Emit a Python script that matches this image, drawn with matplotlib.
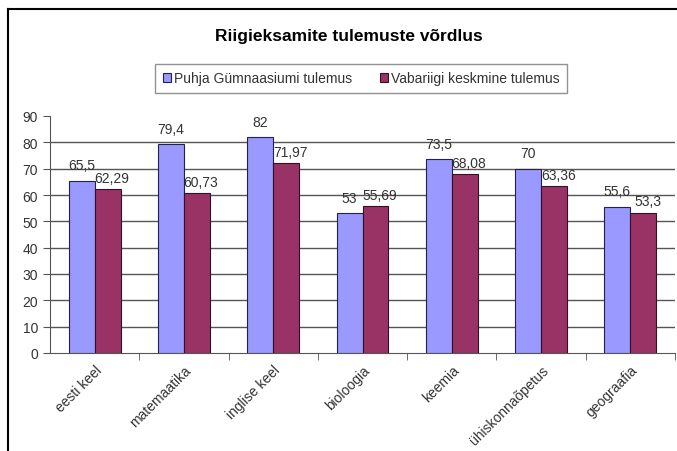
import matplotlib
matplotlib.use("Agg")
import matplotlib.pyplot as plt
import numpy as np
from matplotlib.lines import Line2D

categories = ["eesti keel", "matemaatika", "inglise keel", "bioloogia", "keemia",
              "ühiskonnaõpetus", "geograafia"]
puhja = [65.5, 79.4, 82, 53, 73.5, 70, 55.6]
vabariik = [62.29, 60.73, 71.97, 55.69, 68.08, 63.36, 53.3]
puhja_labels = ["65,5", "79,4", "82", "53", "73,5", "70", "55,6"]
vabariik_labels = ["62,29", "60,73", "71,97", "55,69", "68,08", "63,36", "53,3"]
yticks = [0, 10, 20, 30, 40, 50, 60, 70, 80, 90]

plt.rcParams['font.family'] = ['Liberation Sans', 'DejaVu Sans']

W, H = 677, 452
fig = plt.figure(figsize=(W/100, H/100), dpi=100)
fig.patch.set_facecolor('white')

# outer frame
fig.add_artist(Line2D([8/W, 8/W], [0, 1 - 10/H], color='black', lw=1.5))
fig.add_artist(Line2D([8/W, 1], [1 - 10/H, 1 - 10/H], color='black', lw=1.5))

left, right, bottom, top = 50/W, 675/W, 1 - 354/H, 1 - 117/H
ax = fig.add_axes([left, bottom, right - left, top - bottom])

x = np.arange(len(categories))
w = 0.29
b1 = ax.bar(x - w/2, puhja, w, color='#9999FF', edgecolor='#222244', linewidth=0.8,
            label='Puhja Gümnaasiumi tulemus', zorder=3)
b2 = ax.bar(x + w/2, vabariik, w, color='#993366', edgecolor='#331122', linewidth=0.8,
            label='Vabariigi keskmine tulemus', zorder=3)

for rect, lab in zip(b1, puhja_labels):
    ax.annotate(lab, (rect.get_x() + rect.get_width()/2, rect.get_height()),
                xytext=(0, 6), textcoords='offset points', ha='center', va='bottom',
                fontsize=10, color='#333333')
for rect, lab in zip(b2, vabariik_labels):
    ax.annotate(lab, (rect.get_x() + rect.get_width()/2, rect.get_height()),
                xytext=(3, 3), textcoords='offset points', ha='center', va='bottom',
                fontsize=10, color='#333333')

ax.set_xlim(-0.5, len(categories) - 0.5)
ax.set_ylim(0, 90)
ax.set_yticks(yticks)
ax.set_yticklabels([str(t) for t in yticks], fontsize=10, color='#333333')
ax.yaxis.grid(True, color='#555555', linewidth=1, zorder=0)
gl = ax.yaxis.get_gridlines()
gl[0].set_visible(False)
gl[-1].set_visible(False)

ax.set_xticks(x)
ax.set_xticklabels(categories, rotation=45, ha='right', rotation_mode='anchor',
                   fontsize=10, color='#333333')
ax.tick_params(axis='x', length=0, pad=7)
ax.set_xticks(np.arange(0.5, len(categories) - 0.5 + 1, 1), minor=True)
ax.tick_params(axis='x', which='minor', length=5, direction='out', color='#555555')
ax.tick_params(axis='y', length=5, direction='out', color='#555555')

for s in ['top', 'right']:
    ax.spines[s].set_visible(False)
ax.spines['left'].set_color('#555555')
ax.spines['bottom'].set_color('#555555')

fig.text(349/W, 1 - 36/H, 'Riigieksamite tulemuste võrdlus', ha='center', va='center',
         fontsize=12.5, fontweight='bold')

leg = fig.legend(handles=[b1, b2], loc='center', bbox_to_anchor=(361/W, 1 - 79.5/H),
                 ncol=2, fontsize=10, frameon=True, fancybox=False, edgecolor='#777777',
                 handlelength=0.6, handleheight=0.6, handletextpad=0.2, columnspacing=2.0,
                 borderpad=0.55)
leg.get_frame().set_linewidth(1)
for t in leg.get_texts():
    t.set_color('#333333')

fig.savefig('out.png', dpi=100)
